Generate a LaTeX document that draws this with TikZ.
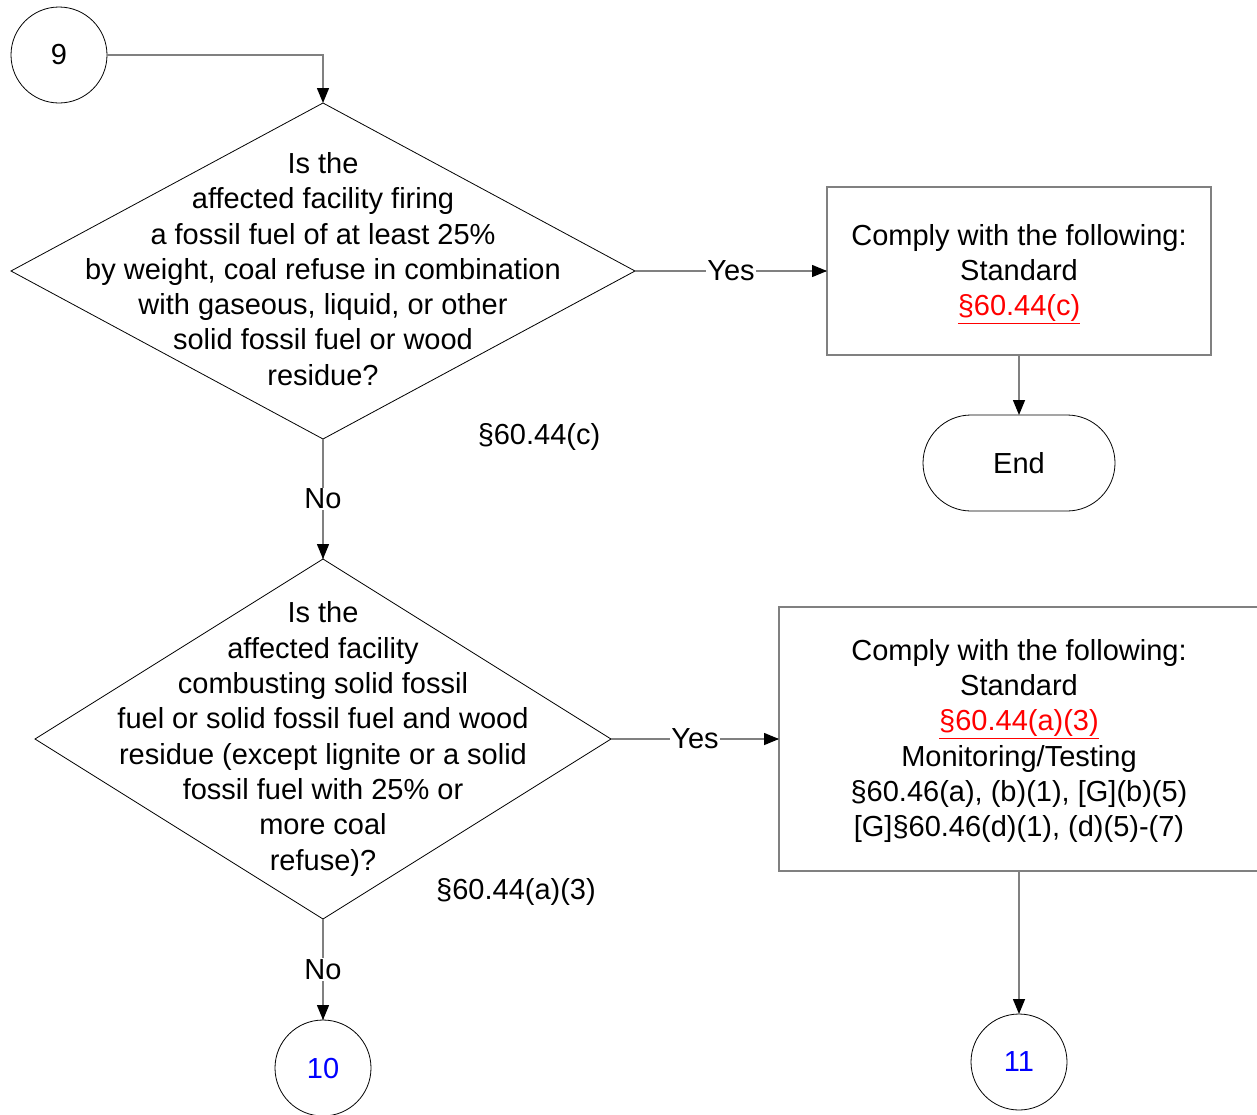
\documentclass[tikz,border=0pt]{standalone}
\usepackage{fontspec}
\setmainfont{Liberation Sans}
\usetikzlibrary{arrows.meta,positioning,shapes.geometric}
\newcommand{\reflink}[1]{\textcolor{red}{\underline{#1}}}
\tikzset{
  decision/.style={draw, diamond, inner sep=0pt, outer sep=0pt, line width=0.8pt},
  qtext/.style={align=center, inner sep=0pt},
  action/.style={draw=black!50, line width=1.6pt, align=center, inner sep=0pt, outer sep=0pt},
  terminal/.style={draw, rounded corners=48pt, minimum width=192pt, minimum height=96pt, line width=0.8pt, outer sep=0pt},
  connector/.style={draw, circle, minimum size=96pt, inner sep=0pt, line width=0.8pt, outer sep=0pt},
  arrow/.style={-{Triangle[length=15pt, width=12pt, color=black]}, draw=black!50, line width=1.4pt},
  plain/.style={draw=black!50, line width=1.4pt},
  lbl/.style={fill=white, inner sep=1pt},
  reftext/.style={inner sep=0pt}
}

\begin{document}
\begin{tikzpicture}[x=1pt, y=-1pt, font=\fontsize{29}{35.3}\selectfont]
  \useasboundingbox (0,0) rectangle (1257,1114);
  \node[connector] (c9) at (59,55) {9};
  \node[decision, minimum width=624pt, minimum height=336pt] (q1) at (323,271) {};
  \node[qtext] (q1text) at (323,269) {Is the\\affected facility firing\\a fossil fuel of at least 25\%\\by weight, coal refuse in combination\\with gaseous, liquid, or other\\solid fossil fuel or wood\\residue?};
  \node[action, minimum width=384pt, minimum height=168pt, right=192pt of q1] (std1) {};
  \node[qtext] (std1text) at (1019,274) {Comply with the following:\\Standard\\\reflink{§60.44(c)}};
  \node[terminal, below=60pt of std1] (fin) {End};
  \node[reftext] (ref1) at (539,437) {§60.44(c)};
  \node[decision, minimum width=576pt, minimum height=360pt, below=120pt of q1] (q2) {};
  \node[qtext] (q2text) at (q2) {Is the\\affected facility\\combusting solid fossil\\fuel or solid fossil fuel and wood\\residue (except lignite or a solid\\fossil fuel with 25\% or\\more coal\\refuse)?};
  \node[action, minimum width=480pt, minimum height=264pt, right=168pt of q2] (std2) {};
  \node[qtext] (std2text) at (1019,741) {Comply with the following:\\Standard\\\reflink{§60.44(a)(3)}\\Monitoring/Testing\\§60.46(a), (b)(1), [G](b)(5)\\{}[G]§60.46(d)(1), (d)(5)-(7)};
  \node[reftext] (ref2) at (516,892) {§60.44(a)(3)};
  \node[connector, below=101pt of q2, text=blue] (c10) {10};
  \node[connector, below=143pt of std2, text=blue] (c11) {11};
  \draw[arrow] (c9.east) -| (q1.north);
  \draw[plain] (q1.east) -- node[lbl] (yes1) {Yes} (std1.west);
  \draw[arrow] (yes1.east) -- (std1.west);
  \draw[arrow] (std1) -- (fin);
  \draw[plain] (q1.south) -- node[lbl] (no1) {No} (q2.north);
  \draw[arrow] (no1.south) -- (q2.north);
  \draw[plain] (q2.east) -- node[lbl] (yes2) {Yes} (std2.west);
  \draw[arrow] (yes2.east) -- (std2.west);
  \draw[arrow] (std2) -- (c11);
  \draw[plain] (q2.south) -- node[lbl] (no2) {No} (c10.north);
  \draw[arrow] (no2.south) -- (c10.north);
\end{tikzpicture}
\end{document}
